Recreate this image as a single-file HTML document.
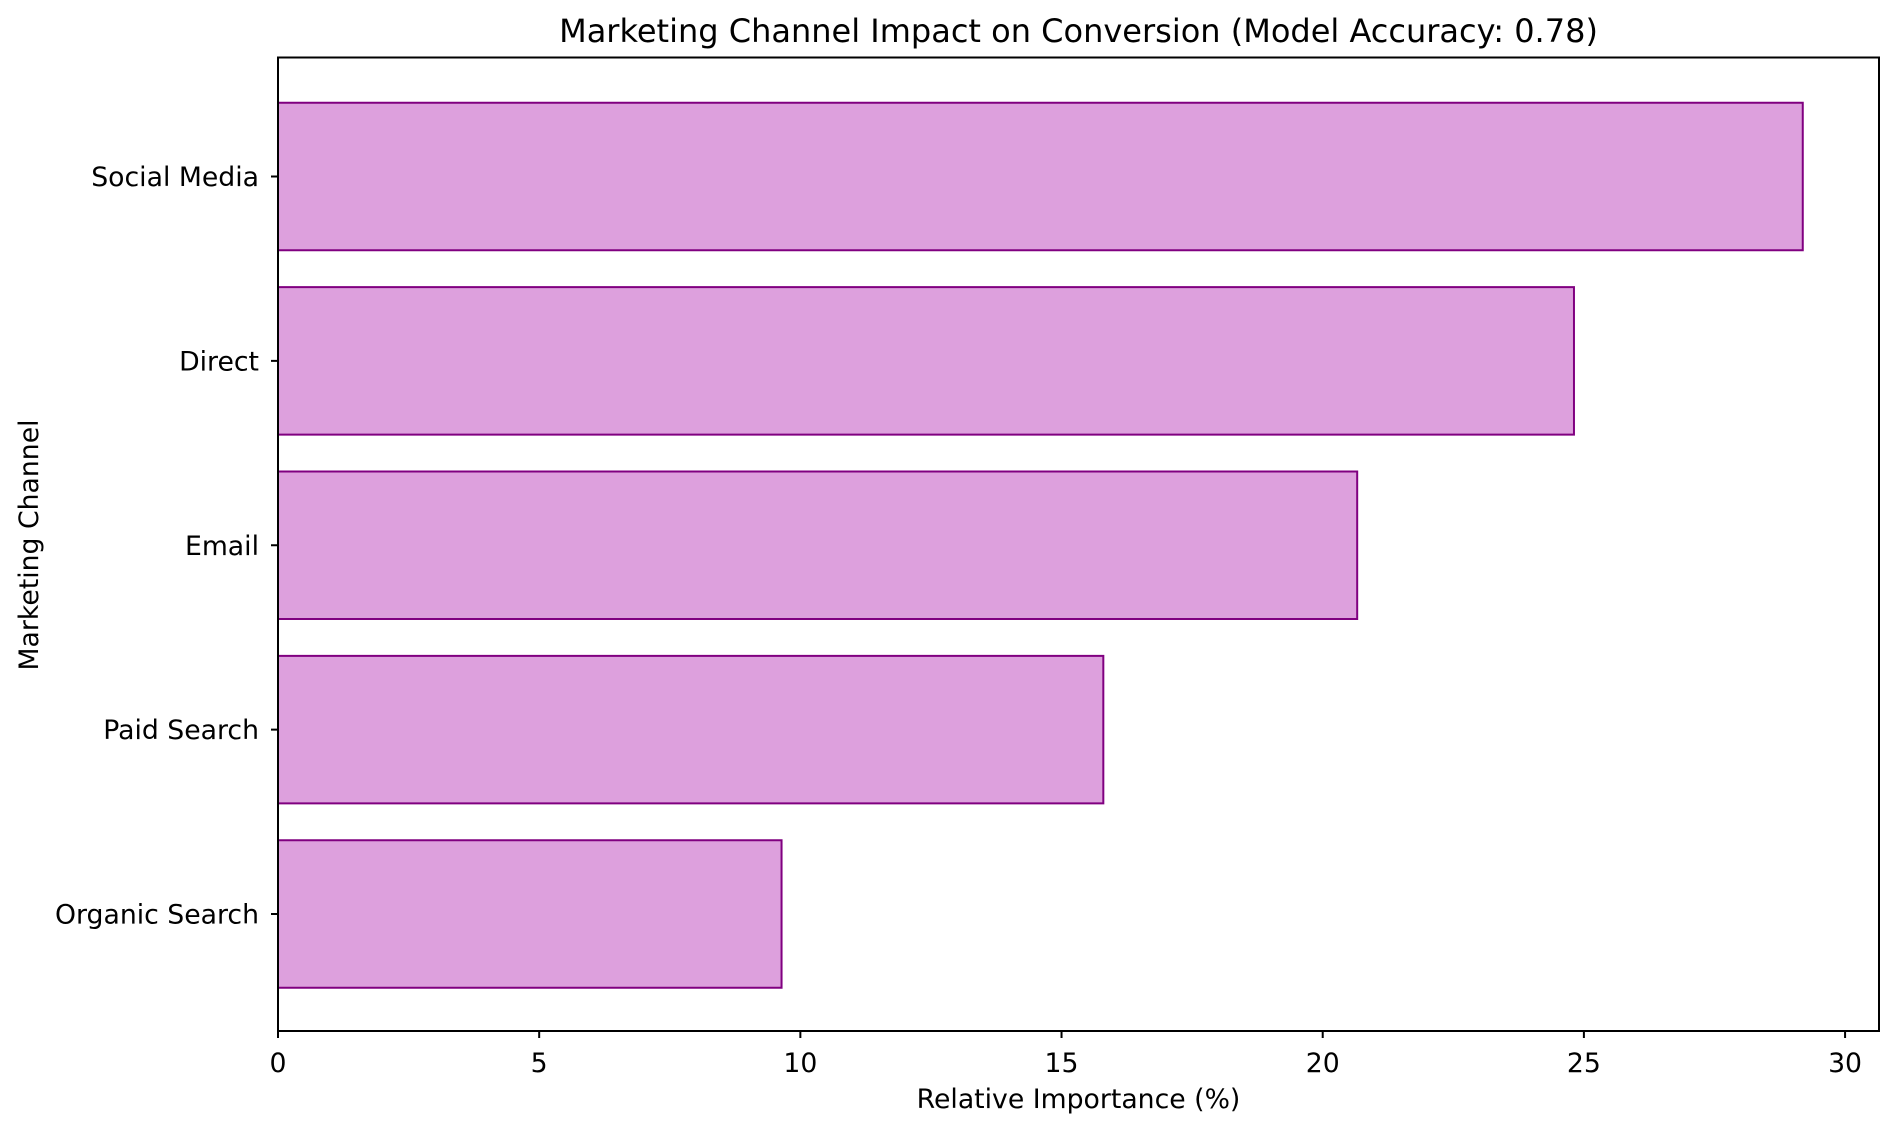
<!DOCTYPE html>
<html><head><meta charset="utf-8"><style>
body{margin:0;background:#fff}
svg text{font-family:"DejaVu Sans","Liberation Sans",sans-serif;fill:#000}
</style></head><body>
<svg id="chart" width="1898" height="1132" xmlns="http://www.w3.org/2000/svg">
<rect width="1898" height="1132" fill="#fff"/>
<text x="1078.5" y="42" font-size="32" text-anchor="middle">Marketing Channel Impact on Conversion (Model Accuracy: 0.78)</text>
<g id="bars"></g>
<g id="xticks"></g>
<g id="yticks"></g>
<rect x="278" y="57.5" width="1601" height="973.5" fill="none" stroke="#000" stroke-width="2"/>
<text x="1078.5" y="1108" font-size="26.7" text-anchor="middle">Relative Importance (%)</text>
<text x="0" y="0" font-size="26.7" text-anchor="middle" transform="translate(38,545) rotate(-90)">Marketing Channel</text>
</svg>
<script>
const categories=["Organic Search","Paid Search","Email","Direct","Social Media"];
const values=[9.64,15.80,20.66,24.81,29.19];
const xTicks=[0,5,10,15,20,25,30];
const NS="http://www.w3.org/2000/svg";
const L=278,R=1879,T=57.5,B=1031;
const xmax=Math.max(...values)*1.05;
const ymin=-0.64,ymax=categories.length-1+0.64;
function xs(v){return L+v/xmax*(R-L);}
function ys(i){return B-(i-ymin)/(ymax-ymin)*(B-T);}
function mk(tag,attrs,parent){const e=document.createElementNS(NS,tag);for(const k in attrs)e.setAttribute(k,attrs[k]);parent.appendChild(e);return e;}
const bars=document.getElementById('bars'),xt=document.getElementById('xticks'),yt=document.getElementById('yticks');
const bh=0.8*(B-T)/(ymax-ymin);
values.forEach((v,i)=>{
  const r=mk('rect',{x:xs(0),y:ys(i)-bh/2+1,width:xs(v)-xs(0),height:bh,fill:'#dda0dd',stroke:'#800080','stroke-width':2},bars);
  
  
  const t=mk('line',{x1:L-7,x2:L,y1:ys(i)+1,y2:ys(i)+1,stroke:'#000','stroke-width':2},yt);
  
  
  const lb=mk('text',{x:L-19,y:ys(i)+10.5,'font-size':26.7,'text-anchor':'end'},yt);
  lb.textContent=categories[i];
  
  
});
xTicks.forEach(v=>{
  const t=mk('line',{x1:xs(v),x2:xs(v),y1:B,y2:B+7,stroke:'#000','stroke-width':2},xt);
  
  
  const lb=mk('text',{x:xs(v),y:1072,'font-size':26.7,'text-anchor':'middle'},xt);
  lb.textContent=v;
  
  
});
</script>
</body></html>
